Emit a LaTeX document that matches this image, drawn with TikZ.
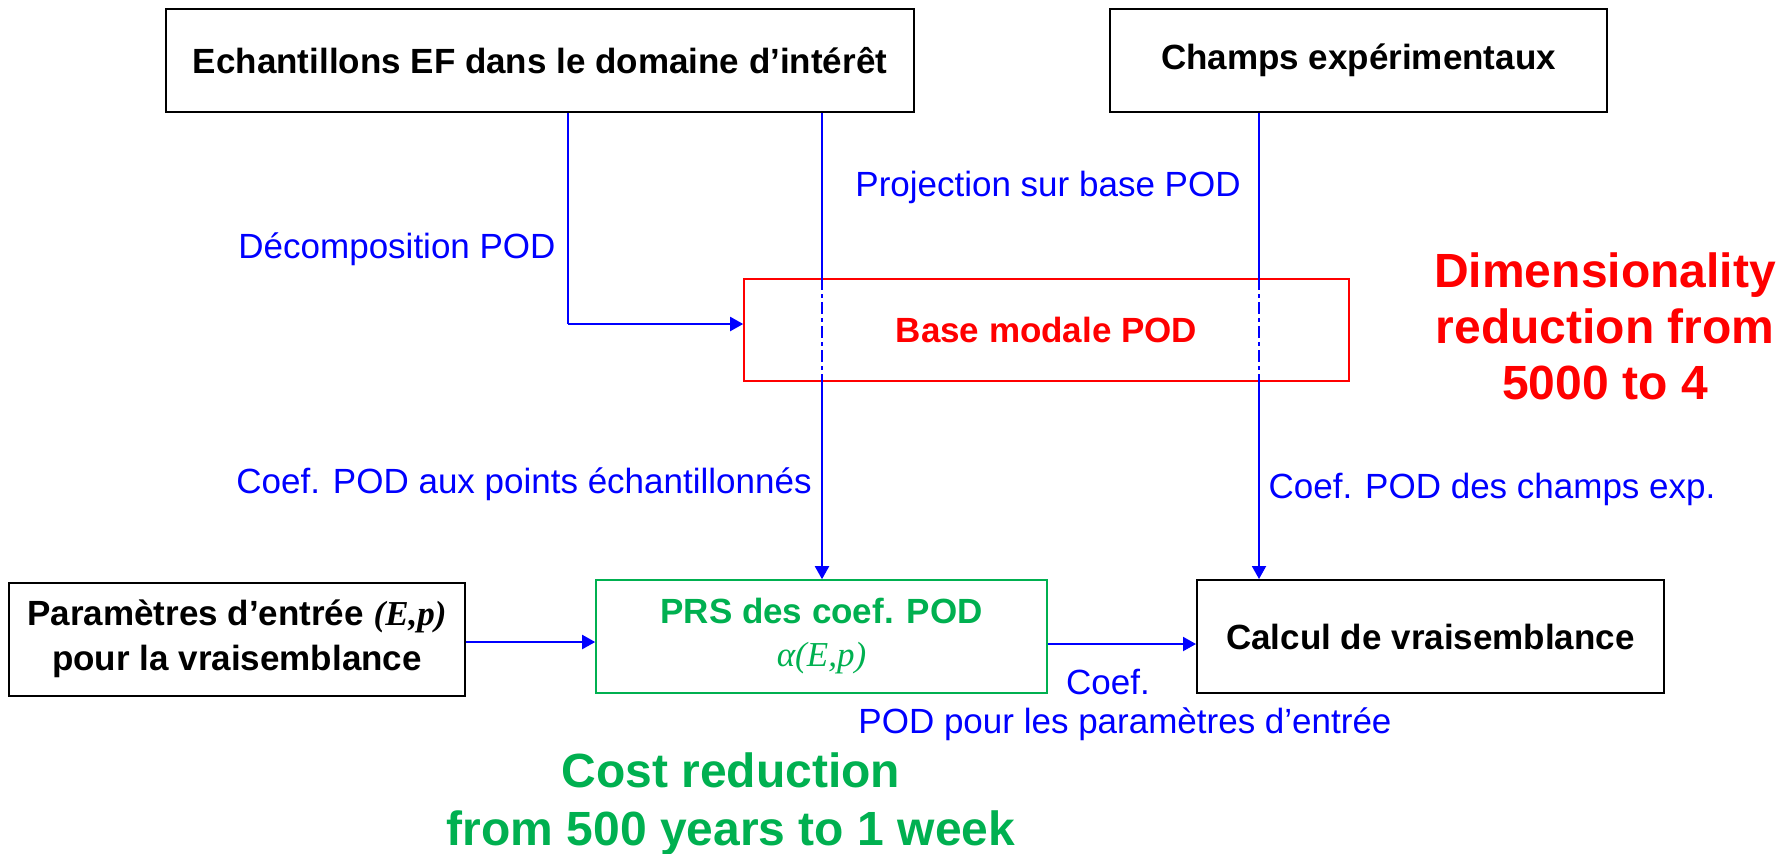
\documentclass[tikz,border=0pt]{standalone}
\usepackage{fontspec}
\setmainfont{Liberation Sans}
\newfontfamily\tms{Liberation Serif}
\usetikzlibrary{arrows.meta,calc}
\definecolor{pblue}{RGB}{0,0,255}
\definecolor{pred}{RGB}{255,0,0}
\definecolor{pgreen}{RGB}{0,176,80}
\tikzset{
  box/.style={draw=black,line width=1pt,rectangle,inner sep=0pt,align=center,
    font=\fontsize{17.5}{21.5}\selectfont\bfseries},
  arr/.style={draw=pblue,line width=1pt,-{Triangle[length=6.5pt,width=7pt]}},
  ln/.style={draw=pblue,line width=1pt},
  dashdot/.style={draw=pblue,line width=1pt,dash pattern=on 6pt off 2pt on 2pt off 2pt},
  lbl/.style={text=pblue,inner sep=0pt,font=\fontsize{17.5}{21}\selectfont},
  big/.style={inner sep=0pt,align=center,font=\fontsize{24}{28}\selectfont\bfseries}
}
\begin{document}
\begin{tikzpicture}[x=0.5pt,y=-0.5pt]
\useasboundingbox (0,0) rectangle (1791,853);
\node[box,minimum width=374pt,minimum height=51.5pt] (e1) at (540,60.5) {Echantillons EF dans le domaine d’intérêt};
\node[box,minimum width=248.5pt,minimum height=51.5pt] (ch) at (1358.5,60.5) {Champs expérimentaux};
\node[box,draw=pred,line width=0.8pt,text=pred,minimum width=302.5pt,minimum height=51pt] (base) at (1046.5,330) {Base modale POD};
\node[box,font=\fontsize{17.5}{22.5}\selectfont\bfseries,minimum width=228pt,minimum height=56.5pt] (par) at (237,639) {Paramètres d’entrée {\tms\bfseries\itshape (E,p)}\\pour la vraisemblance};
\node[box,draw=pgreen,line width=0.8pt,text=pgreen,minimum width=225.5pt,minimum height=56.5pt] (prs) at (821.5,636.5) {PRS des coef. POD\\{\tms\mdseries\itshape α(E,p)}};
\node[box,minimum width=233.5pt,minimum height=56.5pt] (cal) at (1430.5,636.5) {Calcul de vraisemblance};

\coordinate (xa) at (568,0);
\coordinate (xb) at (822,0);
\coordinate (xc) at (1259,0);
\coordinate (ya) at (0,324);
\coordinate (yh) at (0,642);
\coordinate (yk) at (0,644);

% Decomposition POD
\draw[ln] (e1.south -| xa) -- (ya -| xa);
\draw[arr] (ya -| xa) -- (ya -| base.west);
% central vertical
\draw[ln] (e1.south -| xb) -- (base.north -| xb);
\draw[dashdot] (base.north -| xb) -- (base.south -| xb);
\draw[arr] (base.south -| xb) -- (prs.north -| xb);
% right vertical
\draw[ln] (ch.south -| xc) -- (base.north -| xc);
\draw[dashdot] (base.north -| xc) -- (base.south -| xc);
\draw[arr] (base.south -| xc) -- (cal.north -| xc);
% horizontals
\draw[arr] (par.east |- yh) -- (prs.west |- yh);
\draw[arr] (prs.east |- yk) -- (cal.west |- yk);

\node[lbl] (l1) at (397,249) {Décomposition POD};
\node[lbl] (l2) at (1048,187) {Projection sur base POD};
\node[lbl] (l3) at (524,484) {Coef. POD aux points échantillonnés};
\node[lbl] (l4) at (1492,489) {Coef. POD des champs exp.};
\node[lbl] (l5) at (1108,682) {Coef.};
\node[lbl] (l6) at (1125,724) {POD pour les paramètres d’entrée};

\node[big,text=pred] (red) at (1605,326) {Dimensionality\\reduction from\\5000 to 4};
\node[big,text=pgreen,font=\fontsize{24}{29}\selectfont\bfseries] (grn) at (731,804) {Cost reduction\\from 500 years to 1 week};
\end{tikzpicture}
\end{document}
